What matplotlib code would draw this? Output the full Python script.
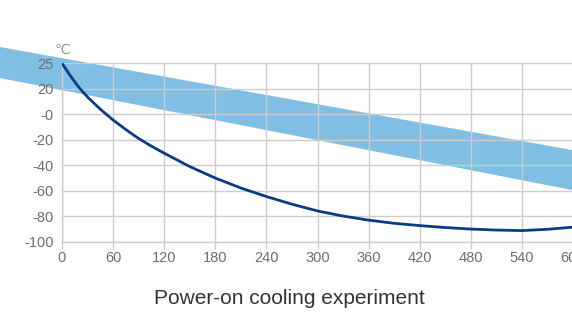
import matplotlib
matplotlib.use("Agg")
import matplotlib.pyplot as plt
from matplotlib.patches import Polygon

# Data (time in s, temperature in axis units)
times = [0, 10, 20, 30, 45, 60, 75, 90, 105, 120, 150, 180, 210, 240, 270, 300,
         330, 360, 390, 420, 450, 480, 510, 540, 570, 600]
temps = [40, 30, 21, 13.5, 4, -4.5, -12, -19, -25, -30.5, -41, -50, -57.8, -64.5, -70.5, -75.8,
         -79.8, -83, -85.5, -87.3, -88.8, -90, -90.8, -91.2, -90.2, -88.5]

x_ticks = [0, 60, 120, 180, 240, 300, 360, 420, 480, 540, 600]
x_labels = ["0", "60", "120", "180", "240", "300", "360", "420", "480", "540", "600"]
y_ticks = [-100, -80, -60, -40, -20, 0, 20, 40]
y_labels = ["-100", "-80", "-60", "-40", "-20", "-0", "20", "25"]

W, H = 572, 314
fig = plt.figure(figsize=(W / 100, H / 100), dpi=100)
fig.patch.set_facecolor("white")

# decorative diagonal band (background)
band = Polygon([(0, 1 - 47 / H), (1, 1 - 150 / H), (1, 1 - 190 / H), (0, 1 - 78 / H)],
               closed=True, transform=fig.transFigure, facecolor="#80bfe3",
               edgecolor="none", zorder=0)
fig.patches.append(band)

top_px, bot_px = 63.3, 241.8
ax = fig.add_axes([62 / W, 1 - bot_px / H, (573 - 62) / W, (bot_px - top_px) / H])
ax.patch.set_alpha(0)
ax.set_zorder(1)

ax.plot(times, temps, color="#0a3c85", linewidth=2.0, solid_capstyle="round",
        solid_joinstyle="round", zorder=3)

ax.set_xlim(0, 600)
ax.set_ylim(-100, 40)
ax.set_xticks(x_ticks)
ax.set_xticklabels(x_labels)
ax.set_yticks(y_ticks)
ax.set_yticklabels(y_labels)

ax.grid(True, color="#cccccc", linewidth=1.0)
ax.set_axisbelow(True)
for s in ["top", "right"]:
    ax.spines[s].set_visible(False)
for s in ["left", "bottom"]:
    ax.spines[s].set_color("#cccccc")
    ax.spines[s].set_linewidth(1.0)

ax.tick_params(axis="x", colors="#cccccc", length=5, width=1, labelcolor="#6e6e6e",
               labelsize=10.5, pad=1.5)
ax.tick_params(axis="y", length=0, labelcolor="#6e6e6e", labelsize=10.5, pad=6)
for lbl in ax.get_xticklabels() + ax.get_yticklabels():
    lbl.set_fontfamily(["Liberation Sans", "DejaVu Sans"])

fig.text(62 / W, 1 - 50 / H, "\u2103", ha="center", va="center", fontsize=10,
         color="#999999", family=["DejaVu Sans"])

fig.text(289.5 / W, 1 - 298 / H, "Power-on cooling experiment", ha="center", va="center",
         fontsize=15, color="#333333", family=["Liberation Sans", "DejaVu Sans"])

fig.savefig("out.png", dpi=100)
